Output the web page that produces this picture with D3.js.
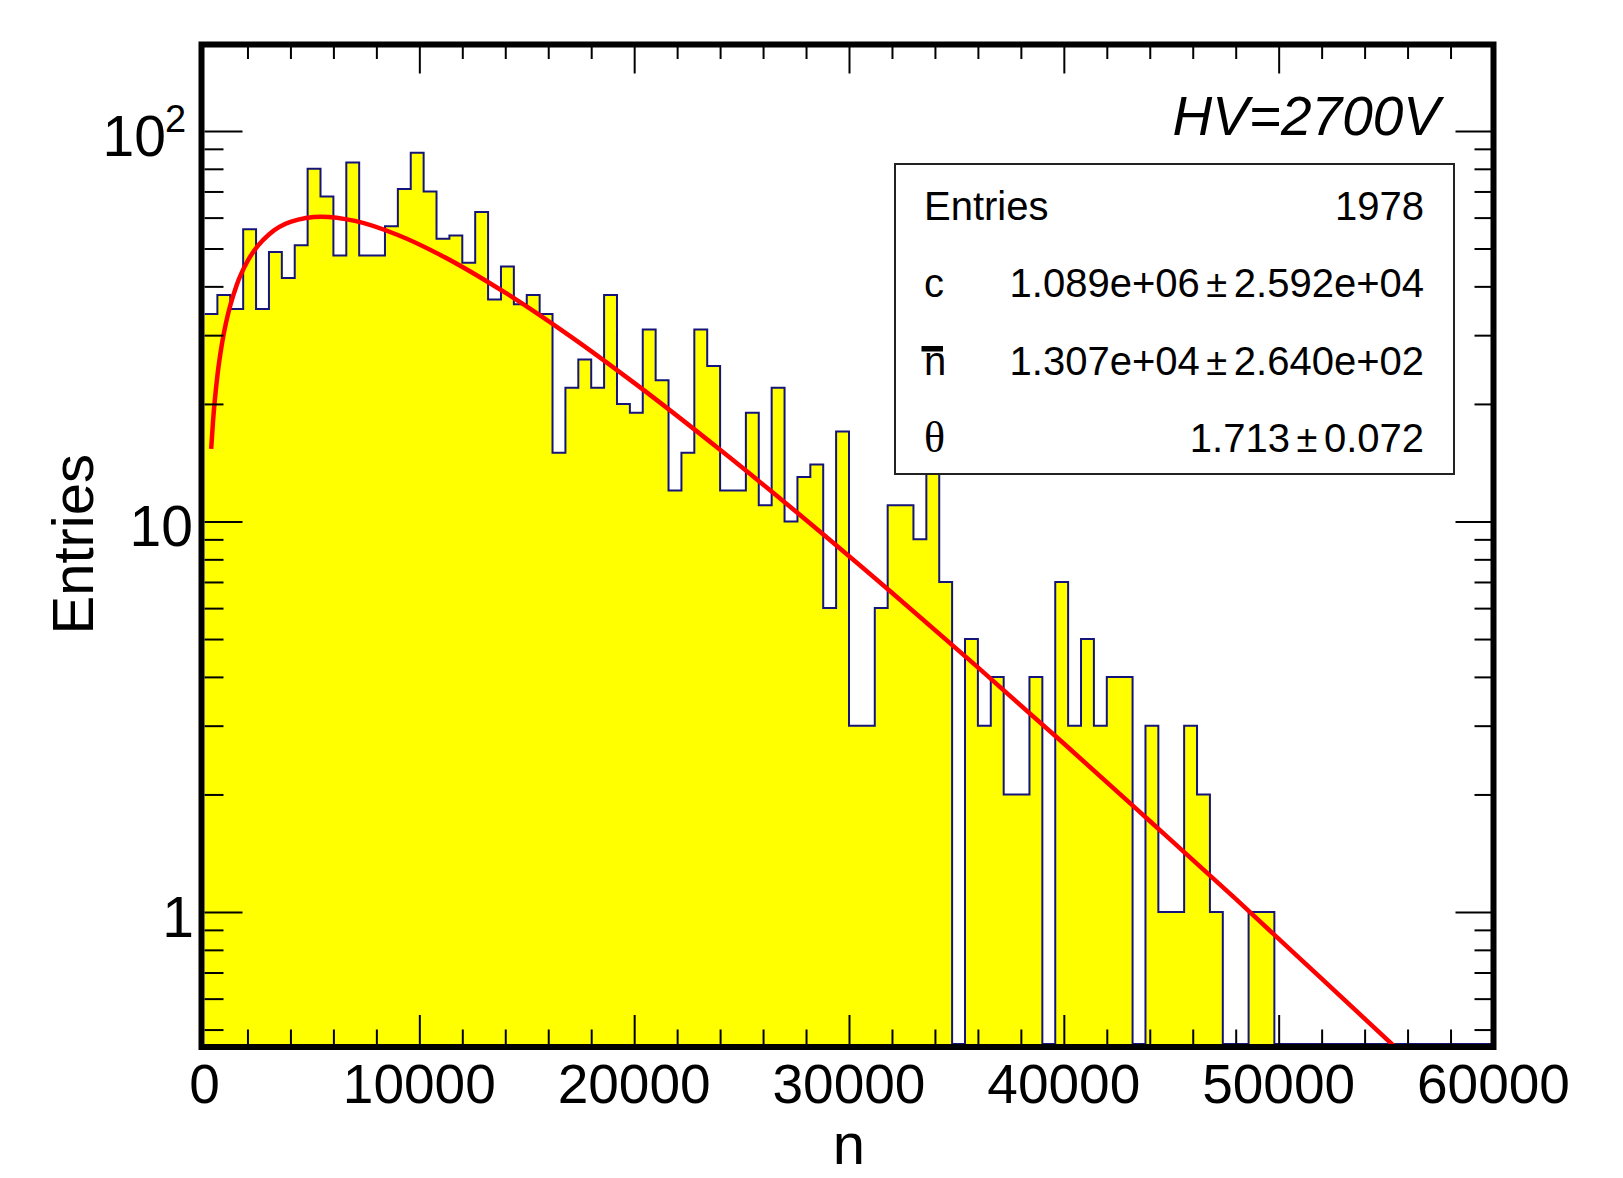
<!DOCTYPE html>
<html>
<head>
<meta charset="utf-8">
<script src="https://cdnjs.cloudflare.com/ajax/libs/d3/7.8.5/d3.min.js"></script>
<style>
  body { margin: 0; background: #fff; }
  svg { display: block; }
  text { font-family: "Liberation Sans", Arial, sans-serif; fill: #000; }
</style>
</head>
<body>
<div id="chart"></div>
<script>
// histogram counts, 100 bins of 600 from 0 to 60000
var binCounts = [
  34, 38, 35, 56, 35, 49, 42, 51, 80, 68,
  48, 83, 48, 48, 57, 71, 88, 70, 53, 54,
  46, 62, 37, 45, 36, 38, 34, 15, 22, 26,
  22, 38, 20, 19, 31, 23, 12, 15, 31, 25,
  12, 12, 19, 11, 22, 10, 13, 14, 6, 17,
  3, 3, 6, 11, 11, 9, 22, 7, 0, 5,
  3, 4, 2, 2, 4, 0, 7, 3, 5, 3,
  4, 4, 0, 3, 1, 1, 3, 2, 1, 0,
  0, 1, 1, 0, 0, 0, 0, 0, 0, 0,
  0, 0, 0, 0, 0, 0, 0, 0, 0, 0
];
var binWidth = 600;

// red fit curve
var fitN   = [311, 400, 600, 800, 1000, 1500, 2000, 2500, 3000, 4000, 5440, 7000, 9000, 11000,
              14000, 17000, 20000, 24000, 28000, 32000, 36000, 40000, 44000, 48000, 52000, 55420];
var fitVal = [15.35, 18.16, 23.62, 28.24, 32.26, 40.35, 46.39, 50.94, 54.33, 58.50, 60.32, 58.84, 54.16, 48.09,
              38.54, 29.88, 22.64, 15.26, 10.09, 6.57, 4.23, 2.70, 1.71, 1.08, 0.675, 0.451];

var xMajorTicks = [0, 10000, 20000, 30000, 40000, 50000, 60000];
var yMajorTicks = [1, 10, 100];
var yMinorTicks = [0.5, 0.6, 0.7, 0.8, 0.9, 2, 3, 4, 5, 6, 7, 8, 9, 20, 30, 40, 50, 60, 70, 80, 90];

var statNames  = ["Entries", "c", "n", "\u03b8"];
var statValues = ["", "1.089e+06", "1.307e+04", "1.713"];
var statErrors = ["1978", "2.592e+04", "2.640e+02", "0.072"];
var hvLabel = "HV=2700V";
var xTitle = "n";
var yTitle = "Entries";

var svgWidth = 1623;
var svgHeight = 1178;
var plot = { left: 204.5, right: 1493.5, top: 44.5, bottom: 1044 };

var svg = d3.select("#chart")
  .append("svg")
  .attr("width", svgWidth)
  .attr("height", svgHeight);

var xScale = d3.scaleLinear()
  .domain([0, 60000])
  .range([plot.left, plot.right]);

var yScale = d3.scaleLog()
  .domain([0.4592, 166.5])
  .range([plot.bottom, plot.top]);

var yMin = yScale.domain()[0];

svg.append("clipPath")
  .attr("id", "plotClip")
  .append("rect")
  .attr("x", plot.left)
  .attr("y", plot.top)
  .attr("width", plot.right - plot.left)
  .attr("height", plot.bottom - plot.top);

var histGroup = svg.append("g").attr("clip-path", "url(#plotClip)");

// step points, empty bins sit on the bottom
var stepPts = binCounts.map((v, i) => [i * binWidth, Math.max(v, yMin)]);
stepPts.push([binCounts.length * binWidth, Math.max(binCounts[binCounts.length - 1], yMin)]);

// yellow fill as one area so no seams between bins
var stepArea = d3.area()
  .x(d => xScale(d[0]))
  .y0(plot.bottom + 4)
  .y1(d => yScale(d[1]))
  .curve(d3.curveStepAfter);

histGroup.append("path")
  .attr("d", stepArea(stepPts))
  .attr("fill", "#ffff00");

var stepLine = d3.line()
  .x(d => xScale(d[0]))
  .y(d => yScale(d[1]))
  .curve(d3.curveStepAfter);

histGroup.append("path")
  .attr("d", stepLine(stepPts))
  .attr("fill", "none")
  .attr("stroke", "#14147a")
  .attr("stroke-width", 2);

// fit curve
var fitLine = d3.line()
  .x(d => xScale(d[0]))
  .y(d => yScale(d[1]))
  .curve(d3.curveMonotoneX);

histGroup.append("path")
  .attr("d", fitLine(fitN.map((n, i) => [n, fitVal[i]])))
  .attr("fill", "none")
  .attr("stroke", "#ff0000")
  .attr("stroke-width", 4.5);

// frame
svg.append("rect")
  .attr("x", plot.left - 3)
  .attr("y", plot.top)
  .attr("width", plot.right - plot.left + 3)
  .attr("height", plot.bottom - plot.top + 3)
  .attr("fill", "none")
  .attr("stroke", "#000")
  .attr("stroke-width", 6);

// ticks, all pointing inwards
var xMinorTicks = d3.range(0, 60001, 2000).filter(t => t % 10000 !== 0);

function tickAxis(axisFn, scale, ticks, size, transform) {
  var g = svg.append("g")
    .attr("transform", transform)
    .call(axisFn(scale).tickValues(ticks).tickSize(-size).tickFormat(""));
  g.select(".domain").remove();
  g.selectAll("line").attr("stroke", "#000").attr("stroke-width", 2);
  return g;
}

tickAxis(d3.axisBottom, xScale, xMajorTicks.slice(1, -1), 29, `translate(0, ${plot.bottom})`);
tickAxis(d3.axisBottom, xScale, xMinorTicks, 14.5, `translate(0, ${plot.bottom})`);
tickAxis(d3.axisTop, xScale, xMajorTicks.slice(1, -1), 29, `translate(0, ${plot.top})`);
tickAxis(d3.axisTop, xScale, xMinorTicks, 14.5, `translate(0, ${plot.top})`);
tickAxis(d3.axisLeft, yScale, yMajorTicks, 38, `translate(${plot.left}, 0)`);
tickAxis(d3.axisLeft, yScale, yMinorTicks, 19, `translate(${plot.left}, 0)`);
tickAxis(d3.axisRight, yScale, yMajorTicks, 38, `translate(${plot.right}, 0)`);
tickAxis(d3.axisRight, yScale, yMinorTicks, 19, `translate(${plot.right}, 0)`);

// x tick labels
svg.append("g")
  .selectAll("text")
  .data(xMajorTicks)
  .enter()
  .append("text")
  .attr("x", d => xScale(d))
  .attr("y", 1103)
  .attr("text-anchor", "middle")
  .style("font-size", "55px")
  .text(d => d);

// y tick labels
svg.append("text")
  .attr("x", 194)
  .attr("y", yScale(1) + 25)
  .attr("text-anchor", "end")
  .style("font-size", "57px")
  .text("1");

svg.append("text")
  .attr("x", 193)
  .attr("y", yScale(10) + 25)
  .attr("text-anchor", "end")
  .style("font-size", "57px")
  .text("10");

svg.append("text")
  .attr("x", 166)
  .attr("y", yScale(100) + 25.5)
  .attr("text-anchor", "end")
  .style("font-size", "57px")
  .text("10");

svg.append("text")
  .attr("x", 165)
  .attr("y", yScale(100) + 0.7)
  .style("font-size", "38px")
  .text("2");

// axis titles
svg.append("text")
  .attr("x", (plot.left + plot.right) / 2)
  .attr("y", 1164)
  .attr("text-anchor", "middle")
  .style("font-size", "58px")
  .text(xTitle);

svg.append("text")
  .attr("transform", `translate(93, ${(plot.top + plot.bottom) / 2}) rotate(-90)`)
  .attr("text-anchor", "middle")
  .style("font-size", "58px")
  .text(yTitle);

// HV label
svg.append("text")
  .attr("x", 1440)
  .attr("y", 135)
  .attr("text-anchor", "end")
  .style("font-size", "55px")
  .style("font-style", "italic")
  .text(hvLabel);

// stats box
var box = { x: 895, y: 164, w: 559, h: 310 };
var statsGroup = svg.append("g");

statsGroup.append("rect")
  .attr("x", box.x)
  .attr("y", box.y)
  .attr("width", box.w)
  .attr("height", box.h)
  .attr("fill", "#fff")
  .attr("stroke", "#222")
  .attr("stroke-width", 2);

var rowBase = [219.5, 297, 374.5, 451.5];
var valRight = 1424;

statNames.forEach(function(name, i) {
  var t = statsGroup.append("text")
    .attr("x", 924)
    .attr("y", rowBase[i])
    .style("font-size", "40px")
    .text(name);
  if (name === "\u03b8") {
    t.style("font-family", "'Liberation Serif', 'Times New Roman', serif")
      .style("font-size", "44px");
  }
  if (name === "n") {
    // bar over the n
    statsGroup.append("rect")
      .attr("x", 921.5)
      .attr("y", rowBase[i] - 28.5)
      .attr("width", 21.5)
      .attr("height", 5.5)
      .attr("fill", "#000");
  }

  var err = statsGroup.append("text")
    .attr("x", valRight)
    .attr("y", rowBase[i])
    .attr("text-anchor", "end")
    .style("font-size", "40px")
    .text(statErrors[i]);

  if (statValues[i] !== "") {
    var errStart = valRight - err.node().getComputedTextLength();
    var pmX = errStart - 17;
    statsGroup.append("text")
      .attr("x", pmX)
      .attr("y", rowBase[i])
      .attr("text-anchor", "middle")
      .style("font-size", "38px")
      .text("\u00b1");
    statsGroup.append("text")
      .attr("x", pmX - 17)
      .attr("y", rowBase[i])
      .attr("text-anchor", "end")
      .style("font-size", "40px")
      .text(statValues[i]);
  }
});
</script>
</body>
</html>
